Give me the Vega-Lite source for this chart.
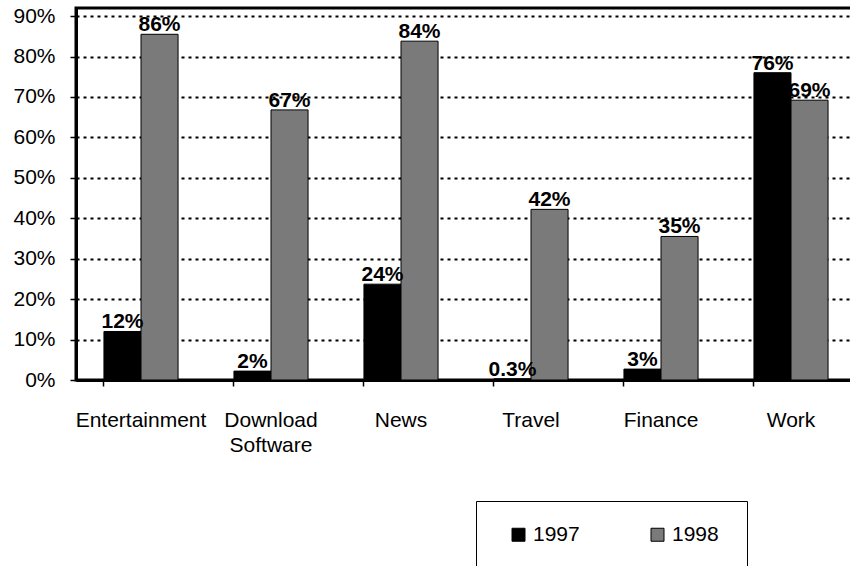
{
  "$schema": "https://vega.github.io/schema/vega-lite/v6.json",
  "width": 780,
  "height": 372,
  "autosize": {"type": "none"},
  "padding": {"left": 76, "top": 8, "right": 0, "bottom": 186},
  "background": "white",
  "config": {
    "font": "Liberation Sans",
    "view": {"stroke": "black", "strokeWidth": 3},
    "axis": {"labelFont": "Liberation Sans", "labelColor": "black", "labelFontSize": 21, "domainColor": "black", "tickColor": "black"}
  },
  "data": {
    "values": [
      {"category": "Entertainment", "year": "1997", "value": 0.12, "label": "12%"},
      {"category": "Entertainment", "year": "1998", "value": 0.855, "label": "86%"},
      {"category": "Download Software", "year": "1997", "value": 0.022, "label": "2%"},
      {"category": "Download Software", "year": "1998", "value": 0.668, "label": "67%"},
      {"category": "News", "year": "1997", "value": 0.237, "label": "24%"},
      {"category": "News", "year": "1998", "value": 0.838, "label": "84%"},
      {"category": "Travel", "year": "1997", "value": 0.003, "label": "0.3%"},
      {"category": "Travel", "year": "1998", "value": 0.422, "label": "42%"},
      {"category": "Finance", "year": "1997", "value": 0.027, "label": "3%"},
      {"category": "Finance", "year": "1998", "value": 0.355, "label": "35%"},
      {"category": "Work", "year": "1997", "value": 0.76, "label": "76%"},
      {"category": "Work", "year": "1998", "value": 0.692, "label": "69%"}
    ]
  },
  "encoding": {
    "x": {
      "field": "category", "type": "nominal", "sort": null, "title": null,
      "scale": {"paddingInner": 0.43, "paddingOuter": 0.215},
      "axis": {
        "labelAngle": 0, "bandPosition": 0, "tickSize": 6, "tickWidth": 1.5,
        "domainWidth": 3, "labelPadding": 23, "labelBaseline": "top", "labelLineHeight": 25,
        "labelExpr": "datum.label == 'Download Software' ? ['Download', 'Software'] : datum.label"
      }
    },
    "xOffset": {"field": "year", "type": "nominal", "scale": {"paddingInner": 0, "paddingOuter": 0}},
    "y": {
      "field": "value", "type": "quantitative", "title": null,
      "scale": {"domain": [0, 0.92], "nice": false},
      "axis": {
        "values": [0, 0.1, 0.2, 0.3, 0.4, 0.5, 0.6, 0.7, 0.8, 0.9],
        "format": ".0%", "tickSize": 6, "tickWidth": 1.5, "labelPadding": 15,
        "domainWidth": 3, "grid": true, "gridColor": "black", "gridDash": [3, 4], "gridWidth": 2, "gridOpacity": 1
      }
    }
  },
  "layer": [
    {
      "mark": {"type": "bar", "stroke": "black", "strokeWidth": 1},
      "encoding": {
        "color": {
          "field": "year", "type": "nominal",
          "scale": {"domain": ["1997", "1998"], "range": ["black", "#7a7a7a"]},
          "legend": {
            "title": "\u2003", "titleOrient": "right", "titlePadding": 5, "titleFontSize": 21,
            "orient": "none", "legendX": 400, "legendY": 493, "direction": "horizontal",
            "strokeColor": "black", "fillColor": "white", "padding": 23,
            "symbolType": "square", "symbolSize": 169, "symbolStrokeColor": "black", "symbolStrokeWidth": 1, "symbolOffset": 9,
            "labelFontSize": 21, "labelFont": "Liberation Sans", "labelColor": "black", "labelOffset": 4, "columnPadding": 58
          }
        }
      }
    },
    {
      "mark": {"type": "text", "fontWeight": "bold", "fontSize": 21, "baseline": "alphabetic", "dy": -3, "color": "black", "font": "Liberation Sans"},
      "encoding": {"text": {"field": "label"}}
    }
  ]
}
